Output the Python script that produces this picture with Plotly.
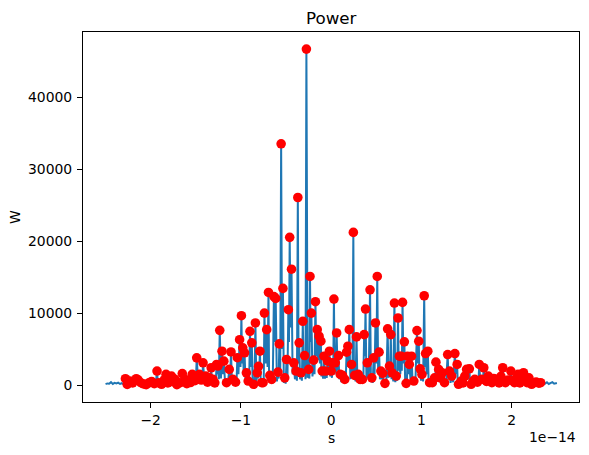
import plotly.graph_objects as go

# x values are in units of 1e-14 s, y in W
tail_left_x = [-2.50, -2.48, -2.46, -2.44, -2.42, -2.40, -2.38, -2.36, -2.34, -2.32, -2.30]
tail_left_y = [120, 220, 180, 400, 150, 300, 220, 330, 150, 250, 100]

tail_right_x = [2.35, 2.37, 2.39, 2.41, 2.43, 2.45, 2.47, 2.49, 2.50]
tail_right_y = [300, 200, 380, 150, 250, 400, 180, 250, 280]

peak_x = [
    -2.28, -2.26, -2.23, -2.20, -2.16, -2.14, -2.11, -2.08, -2.05, -2.02,
    -1.99, -1.96, -1.93, -1.91, -1.88, -1.85, -1.83, -1.81, -1.79, -1.77,
    -1.75, -1.73, -1.71, -1.68, -1.65, -1.62, -1.60, -1.58, -1.56, -1.54,
    -1.51, -1.49, -1.46, -1.44, -1.42, -1.39, -1.37, -1.35, -1.33, -1.31,
    -1.29, -1.27, -1.255, -1.235, -1.21, -1.19, -1.16, -1.13, -1.11, -1.09,
    -1.06, -1.04, -1.015, -0.995, -0.98, -0.96, -0.94, -0.92, -0.90, -0.88,
    -0.86, -0.84, -0.82, -0.805, -0.79, -0.77, -0.755, -0.74, -0.715, -0.695,
    -0.68, -0.66, -0.635, -0.615, -0.59, -0.575, -0.555, -0.535, -0.515, -0.495,
    -0.475, -0.46, -0.44, -0.415, -0.39, -0.37, -0.355, -0.335, -0.315, -0.295,
    -0.275, -0.25, -0.235, -0.22, -0.195, -0.175, -0.155, -0.135, -0.115, -0.10,
    -0.08, -0.06, -0.04, -0.02, 0.00, 0.015, 0.03, 0.045, 0.06, 0.08,
    0.10, 0.125, 0.15, 0.17, 0.185, 0.20, 0.225, 0.245, 0.26, 0.28,
    0.30, 0.32, 0.345, 0.365, 0.38, 0.40, 0.43, 0.45, 0.47, 0.49,
    0.51, 0.53, 0.55, 0.57, 0.595, 0.625, 0.645, 0.66, 0.675, 0.70,
    0.72, 0.74, 0.755, 0.775, 0.79, 0.81, 0.83, 0.845, 0.865, 0.89,
    0.915, 0.95, 0.97, 0.985, 1.005, 1.03, 1.045, 1.07, 1.09, 1.12,
    1.145, 1.16, 1.19, 1.21, 1.23, 1.255, 1.29, 1.31, 1.335, 1.37,
    1.395, 1.41, 1.44, 1.46, 1.48, 1.50, 1.53, 1.55, 1.57, 1.59,
    1.62, 1.64, 1.665, 1.69, 1.72, 1.74, 1.76, 1.78, 1.80, 1.83,
    1.86, 1.88, 1.90, 1.93, 1.96, 1.99, 2.01, 2.03, 2.05, 2.07,
    2.09, 2.11, 2.13, 2.15, 2.17, 2.19, 2.22, 2.25, 2.27, 2.30,
    2.32,
]
peak_y = [
    880, 80, 550, 300, 880, 700, 320, 150, 60, 300,
    500, 200, 1940, 300, 100, 700, 1480, 300, 900, 1250,
    450, 800, 60, 300, 1600, 800, 200, 550, 350, 1480,
    600, 3780, 1480, 700, 3090, 1250, 400, 1000, 2400, 780,
    300, 2860, 2640, 7600, 4700, 3320, 320, 2170, 4600, 780,
    400, 3800, 6300, 9640, 5170, 4480, 1700, 550, 7470, 5860,
    100, 8630, 1700, 2600, 4700, 320, 320, 10000, 7700, 12870,
    1340, 780, 12300, 12040, 1800, 5720, 33540, 13430, 1000, 3550,
    10470, 20530, 16100, 3090, 1940, 26070, 5860, 1700, 8860, 4100,
    46700, 2170, 15090, 10000, 3460, 11580, 7700, 6780, 6090, 1940,
    4010, 1940, 3320, 4700, 1940, 3090, 11950, 3090, 7240, 4100,
    1480, 1340, 780, 4570, 5400, 7700, 2860, 21220, 1340, 6690,
    1480, 780, 780, 7010, 10560, 3090, 13240, 1000, 3780, 8630,
    15090, 4570, 1940, 1620, 230, 7800, 2640, 7010, 1700, 11400,
    1250, 9320, 4010, 4010, 11490, 6000, 230, 4010, 2860, 4010,
    550, 7570, 6090, 2260, 1480, 12410, 4380, 4700, 320, 320,
    1000, 3180, 2170, 1000, 1700, 320, 4240, 1940, 1250, 4380,
    2860, 100, 550, 300, 1250, 2170, 2260, 100, 500, 780,
    400, 2860, 800, 2400, 500, 1250, 800, 320, 900, 780,
    300, 1200, 2400, 320, 700, 1940, 600, 320, 900, 1480,
    300, 900, 1710, 700, 320, 1000, 100, 320, 400, 250,
    320,
]
trough_x = [
    -2.27, -2.245, -2.215, -2.18, -2.15, -2.125, -2.095, -2.065, -2.035, -2.005,
    -1.975, -1.945, -1.92, -1.895, -1.865, -1.84, -1.82, -1.80, -1.78, -1.76,
    -1.74, -1.72, -1.695, -1.665, -1.635, -1.61, -1.59, -1.57, -1.55, -1.525,
    -1.50, -1.475, -1.45, -1.43, -1.405, -1.38, -1.36, -1.34, -1.32, -1.30,
    -1.28, -1.262, -1.245, -1.222, -1.20, -1.175, -1.145, -1.12, -1.10, -1.075,
    -1.05, -1.028, -1.005, -0.988, -0.97, -0.95, -0.93, -0.91, -0.89, -0.87,
    -0.85, -0.83, -0.812, -0.798, -0.78, -0.762, -0.748, -0.728, -0.705, -0.688,
    -0.67, -0.648, -0.625, -0.602, -0.582, -0.565, -0.545, -0.525, -0.505, -0.485,
    -0.468, -0.45, -0.428, -0.402, -0.38, -0.362, -0.345, -0.325, -0.305, -0.285,
    -0.262, -0.242, -0.228, -0.208, -0.185, -0.165, -0.145, -0.125, -0.108, -0.09,
    -0.07, -0.05, -0.03, -0.01, 0.008, 0.022, 0.038, 0.052, 0.07, 0.09,
    0.112, 0.138, 0.16, 0.178, 0.192, 0.212, 0.235, 0.252, 0.27, 0.29,
    0.31, 0.332, 0.355, 0.372, 0.39, 0.415, 0.44, 0.46, 0.48, 0.50,
    0.52, 0.54, 0.56, 0.582, 0.61, 0.635, 0.652, 0.668, 0.688, 0.71,
    0.73, 0.748, 0.765, 0.782, 0.80, 0.82, 0.838, 0.855, 0.878, 0.902,
    0.932, 0.96, 0.978, 0.995, 1.018, 1.038, 1.058, 1.08, 1.105, 1.132,
    1.152, 1.175, 1.20, 1.22, 1.242, 1.272, 1.30, 1.322, 1.352, 1.382,
    1.402, 1.425, 1.45, 1.47, 1.49, 1.515, 1.54, 1.56, 1.58, 1.605,
    1.63, 1.652, 1.678, 1.705, 1.73, 1.75, 1.77, 1.79, 1.815, 1.845,
    1.87, 1.89, 1.915, 1.945, 1.975, 2.00, 2.02, 2.04, 2.06, 2.08,
    2.10, 2.12, 2.14, 2.16, 2.18, 2.205, 2.235, 2.26, 2.285, 2.31,
    2.335,
]
trough_y = [
    40, 20, 60, 50, 400, 80, 40, 20, 10, 80,
    50, 60, 100, 30, 20, 300, 100, 150, 500, 100,
    150, 20, 10, 100, 200, 80, 50, 100, 120, 200,
    250, 600, 300, 200, 500, 150, 100, 200, 300, 50,
    100, 1500, 800, 900, 1500, 100, 50, 900, 200, 50,
    100, 1500, 2500, 3000, 2000, 600, 200, 100, 2500, 50,
    20, 500, 900, 1500, 100, 100, 150, 3000, 2500, 600,
    300, 200, 6000, 500, 900, 1500, 5000, 300, 200, 1000,
    6000, 8000, 1500, 800, 600, 3000, 800, 600, 1500, 800,
    1000, 900, 6000, 1200, 1500, 4000, 3500, 3000, 1200, 900,
    900, 1000, 1500, 1200, 1000, 1500, 1500, 1800, 2000, 800,
    400, 300, 300, 2500, 3000, 800, 1000, 800, 500, 600,
    200, 200, 300, 4000, 1000, 800, 400, 300, 1500, 3000,
    1500, 800, 800, 100, 50, 1000, 1200, 800, 500, 400,
    600, 2000, 1500, 2000, 3000, 100, 100, 1500, 800, 200,
    150, 3000, 1000, 600, 500, 2500, 1500, 200, 80, 150,
    500, 600, 400, 300, 100, 100, 800, 300, 400, 1500,
    50, 50, 100, 100, 400, 800, 50, 30, 100, 100,
    150, 300, 200, 150, 150, 300, 100, 100, 150, 100,
    100, 500, 100, 100, 200, 200, 100, 100, 300, 100,
    100, 300, 200, 100, 100, 30, 30, 100, 80, 100,
    150,
]

assert len(peak_x) == len(peak_y) == len(trough_x) == len(trough_y)

x_tick_vals = [-2, -1, 0, 1, 2]
x_tick_text = ["\u22122", "\u22121", "0", "1", "2"]
y_tick_vals = [0, 10000, 20000, 30000, 40000]
y_tick_text = ["0", "10000", "20000", "30000", "40000"]

# assemble the sampled signal: tail, then peak/trough pairs, then tail
line_x = list(tail_left_x)
line_y = list(tail_left_y)
for px, py, tx, ty in zip(peak_x, peak_y, trough_x, trough_y):
    line_x += [px, tx]
    line_y += [py, ty]
line_x += tail_right_x
line_y += tail_right_y

FONT = "DejaVu Sans"

fig = go.Figure()
fig.add_trace(go.Scatter(x=line_x, y=line_y, mode="lines",
                         line=dict(color="#1f77b4", width=2.0), hoverinfo="skip"))
fig.add_trace(go.Scatter(x=peak_x, y=peak_y, mode="markers",
                         marker=dict(color="red", size=9.6, line=dict(width=0))))

axis_common = dict(showline=True, linecolor="black", linewidth=1, mirror=True,
                   ticks="outside", ticklen=5, tickwidth=1, tickcolor="black",
                   showgrid=False, zeroline=False,
                   tickfont=dict(family=FONT, size=13.9, color="black"))

fig.update_layout(
    width=589, height=455,
    margin=dict(l=83, r=10, t=32, b=53),
    paper_bgcolor="white", plot_bgcolor="white",
    showlegend=False,
    font=dict(family=FONT, color="black"),
    xaxis=dict(range=[-2.75, 2.745], tickvals=x_tick_vals, ticktext=x_tick_text,
               ticklabelstandoff=0, **axis_common),
    yaxis=dict(range=[-2360, 49080], tickvals=y_tick_vals, ticktext=y_tick_text,
               ticklabelstandoff=2, **axis_common),
    annotations=[
        dict(text="Power", xref="paper", yref="paper", x=0.5, y=(402 - 18) / 370,
             xanchor="center", yanchor="middle", showarrow=False,
             font=dict(family=FONT, size=16.7, color="black")),
        dict(text="s", xref="paper", yref="paper", x=0.5, y=(402 - 438) / 370,
             xanchor="center", yanchor="middle", showarrow=False,
             font=dict(family=FONT, size=13.9, color="black")),
        dict(text="W", xref="paper", yref="paper", x=(15 - 83) / 496, y=0.5,
             xanchor="center", yanchor="middle", showarrow=False, textangle=-90,
             font=dict(family=FONT, size=13.9, color="black")),
        dict(text="1e\u221214", xref="paper", yref="paper", x=(578 - 83) / 496, y=(402 - 437) / 370,
             xanchor="right", yanchor="middle", showarrow=False,
             font=dict(family=FONT, size=13.9, color="black")),
    ],
)

fig.write_html("out.html")
